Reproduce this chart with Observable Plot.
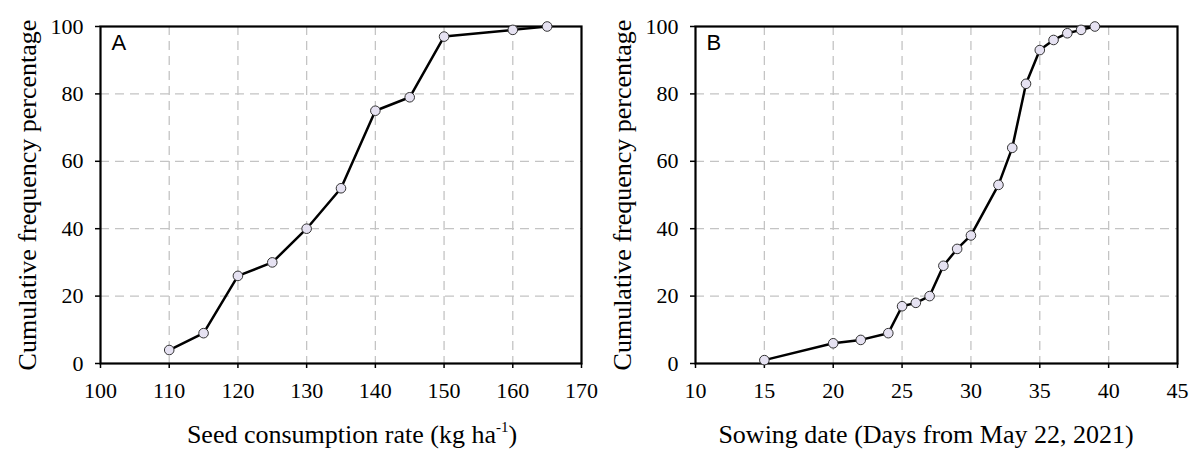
<!DOCTYPE html>
<html>
<head>
<meta charset="utf-8">
<script src="https://cdn.jsdelivr.net/npm/d3@7"></script>
<script src="https://cdn.jsdelivr.net/npm/@observablehq/plot@0.6"></script>
<style>
  html, body { margin: 0; padding: 0; background: #fff; }
  #wrap { position: relative; width: 1189px; height: 460px; overflow: hidden; background: #fff; }
  .panel { position: absolute; top: 0; }
  .panel svg text { font-family: "Liberation Serif", "Times New Roman", serif; font-variant: normal !important; font-variant-numeric: normal !important; }
  .panel svg text.sans, .panel svg g.sans text { font-family: "Liberation Sans", Arial, sans-serif; }
  .xtitle { position: absolute; font-family: "Liberation Serif", "Times New Roman", serif; font-size: 26px; color: #000; white-space: nowrap; text-align: center; }
  .xtitle sup { font-size: 15px; vertical-align: 11px; line-height: 0; }
</style>
</head>
<body>
<div id="wrap"></div>
<script>
// Panel A: seed consumption rate
const seedRate = [110, 115, 120, 125, 130, 135, 140, 145, 150, 160, 165];
const seedCum  = [4, 9, 26, 30, 40, 52, 75, 79, 97, 99, 100];
const seedTicks = [100, 110, 120, 130, 140, 150, 160, 170];

// Panel B: sowing date
const sowDay = [15, 20, 22, 24, 25, 26, 27, 28, 29, 30, 32, 33, 34, 35, 36, 37, 38, 39];
const sowCum = [1, 6, 7, 9, 17, 18, 20, 29, 34, 38, 53, 64, 83, 93, 96, 98, 99, 100];
const sowTicks = [10, 15, 20, 25, 30, 35, 40, 45];

const yTicks = [0, 20, 40, 60, 80, 100];
const yTitle = "Cumulative frequency percentage";
const panelLetters = ["A", "B"];

const serif = "Liberation Serif";
const wrap = document.getElementById("wrap");

function panel({xs, ys, xTicks, xDomain, letter, left, width, marginLeft, marginRight}) {
  const data = xs.map((x, i) => ({x, y: ys[i]}));
  const inner = xTicks.slice(1, -1);
  const innerY = yTicks.slice(1, -1);
  const chart = Plot.plot({
    width, height: 400,
    marginLeft, marginRight, marginTop: 26, marginBottom: 37,
    style: {fontFamily: serif, fontSize: "22px", color: "#000", background: "transparent", overflow: "visible"},
    x: {domain: xDomain},
    y: {domain: [0, 100]},
    marks: [
      Plot.gridX(inner, {stroke: "#c4c4c4", strokeOpacity: 1, strokeWidth: 1.3, strokeDasharray: "9,6"}),
      Plot.gridY(innerY, {stroke: "#c4c4c4", strokeOpacity: 1, strokeWidth: 1.3, strokeDasharray: "9,6"}),
      Plot.frame({stroke: "#000", strokeWidth: 2.2}),
      Plot.axisX(xTicks, {tickSize: 5, tickFormat: () => "", label: null, stroke: "#000", strokeWidth: 1.5}),
      Plot.axisY(yTicks, {tickSize: 5, tickFormat: () => "", label: null, stroke: "#000", strokeWidth: 1.5}),
      Plot.text(xTicks, {x: d => d, text: d => String(d), frameAnchor: "bottom", dy: 19, lineAnchor: "top", textAnchor: "middle", fontSize: 22, fontFamily: serif, fontVariant: "normal", fill: "#000"}),
      Plot.text(yTicks, {y: d => d, text: d => String(d), frameAnchor: "left", dx: -17, textAnchor: "end", lineAnchor: "middle", fontSize: 22, fontFamily: serif, fontVariant: "normal", fill: "#000"}),
      Plot.text([yTitle], {frameAnchor: "left", rotate: -90, dx: -73, fontSize: 26, fontFamily: serif, textAnchor: "middle", lineAnchor: "middle"}),
      Plot.text([letter], {frameAnchor: "top-left", dx: 11, dy: 8, fontSize: 22, fontFamily: "Liberation Sans", className: "sans"}),
      Plot.line(data, {x: "x", y: "y", stroke: "#000", strokeWidth: 2.5}),
      Plot.dot(data, {x: "x", y: "y", r: 4.8, fill: "#e6e2f2", stroke: "#333", strokeWidth: 1})
    ]
  });
  const div = document.createElement("div");
  div.className = "panel";
  div.style.left = left + "px";
  div.appendChild(chart);
  wrap.appendChild(div);
}

panel({xs: seedRate, ys: seedCum, xTicks: seedTicks, xDomain: [100, 170], letter: panelLetters[0], left: 0, width: 594, marginLeft: 100, marginRight: 13});
panel({xs: sowDay, ys: sowCum, xTicks: sowTicks, xDomain: [10, 45], letter: panelLetters[1], left: 594, width: 595, marginLeft: 101, marginRight: 12});

function xTitle(html, center, width) {
  const d = document.createElement("div");
  d.className = "xtitle";
  d.style.left = (center - width / 2) + "px";
  d.style.width = width + "px";
  d.style.top = "420px";
  d.innerHTML = html;
  wrap.appendChild(d);
}
xTitle("Seed consumption rate (kg ha<sup>-1</sup>)", 352, 400);
xTitle("Sowing date (Days from May 22, 2021)", 926, 460);
</script>
</body>
</html>
